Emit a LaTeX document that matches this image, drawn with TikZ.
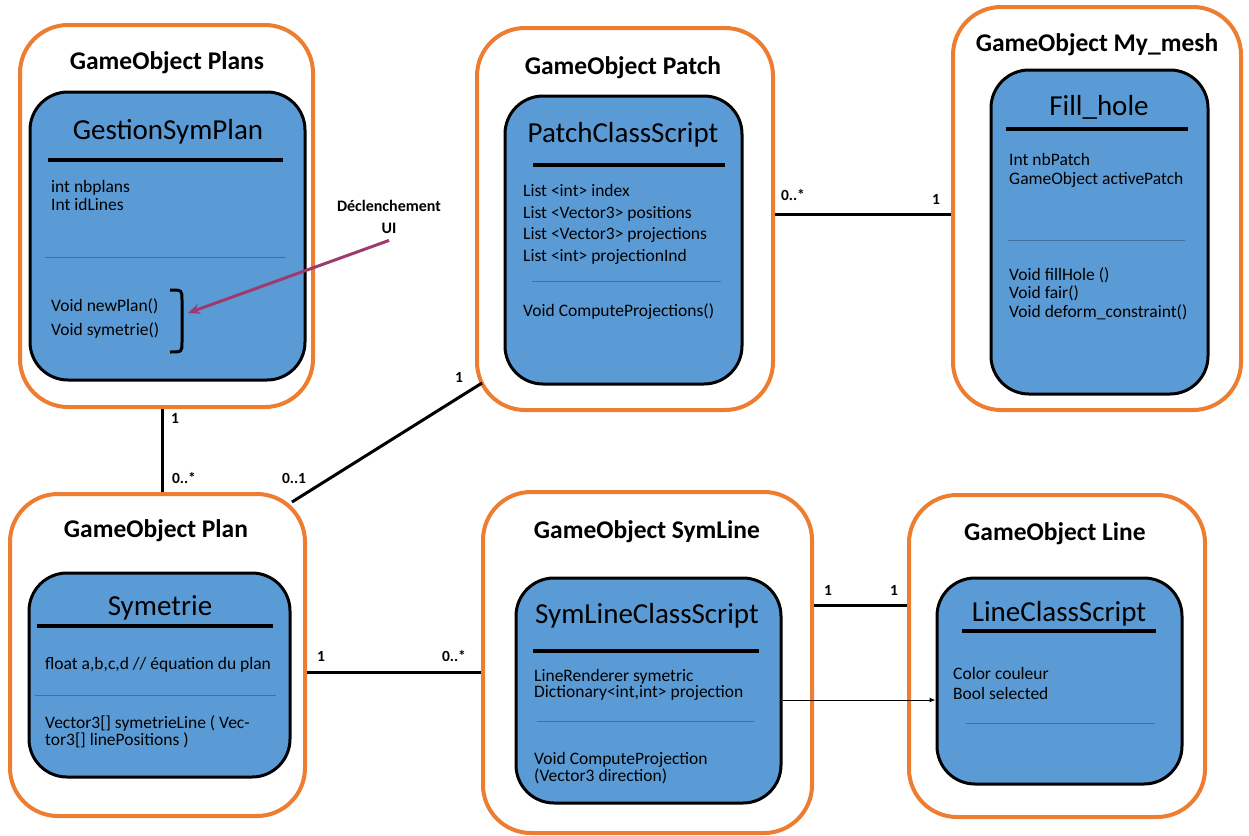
\documentclass[tikz,border=0pt]{standalone}
\usepackage{fontspec}
\setmainfont{Carlito}
\usetikzlibrary{arrows.meta,calc}
\definecolor{frameorange}{HTML}{ED7D31}
\definecolor{classblue}{HTML}{5B9BD5}
\definecolor{sepblue}{HTML}{41719C}
\definecolor{trigger}{HTML}{9E3A6E}
\tikzset{
  gobox/.style={draw=frameorange, line width=4pt, rounded corners=48pt, fill=white, inner sep=0pt},
  clsbox/.style={draw=black, line width=3pt, rounded corners=38pt, fill=classblue, inner sep=0pt},
  gotitle/.style={font=\fontsize{25.5}{28}\selectfont\bfseries, inner sep=0pt},
  clsname/.style={font=\fontsize{29}{32}\selectfont, inner sep=0pt},
  member/.style={font=\fontsize{17.5}{19}\selectfont, anchor=mid west, yshift=-4pt, inner sep=0pt, align=left},
  heavysep/.style={line width=3.5pt},
  lightsep/.style={line width=0.8pt, draw=sepblue},
  assoc/.style={line width=3pt},
  mult/.style={font=\fontsize{15.5}{17}\selectfont\bfseries, inner sep=0pt},
}
\begin{document}
\begin{tikzpicture}[x=1pt,y=-1pt]
\useasboundingbox (0,0) rectangle (1249,835);

% ---- GameObject Plans ----
\node[gobox, minimum width=293pt, minimum height=382pt] (plans) at (166.5,216) {};
\node[gotitle] (plansT) at (167,63) {GameObject Plans};
\node[clsbox, minimum width=275pt, minimum height=288pt] (plansC) at (167.5,236) {};
\node[clsname] (plansN) at (168,132) {GestionSymPlan};
\draw[heavysep] (48,160) -- (283,160);
\node[member] (plansA1) at (51,186) {int nbplans};
\node[member] (plansA2) at (51,204) {Int idLines};
\draw[lightsep] (45,257) -- (286,257);
\node[member] (plansM1) at (51,305) {Void newPlan()};
\node[member] (plansM2) at (51,329) {Void symetrie()};
\draw[line width=3pt] (170,290) .. controls (182,290) .. (182,300) -- (182,342) .. controls (182,352) .. (170,352);
\coordinate (bracketTip) at (188,313);

% ---- GameObject Patch ----
\node[gobox, minimum width=296pt, minimum height=382pt] (patch) at (625,219) {};
\node[gotitle] (patchT) at (623,68) {GameObject Patch};
\node[clsbox, minimum width=237pt, minimum height=288pt] (patchC) at (623.5,240) {};
\node[clsname] (patchN) at (623,135) {PatchClassScript};
\draw[heavysep] (533,165) -- (725,165);
\node[member] (patchA1) at (523,190) {List <int> index};
\node[member] (patchA2) at (523,212) {List <Vector3> positions};
\node[member] (patchA3) at (523,233) {List <Vector3> projections};
\node[member] (patchA4) at (523,255) {List <int> projectionInd};
\draw[lightsep] (532,281) -- (721,281);
\node[member] (patchM1) at (523,310) {Void ComputeProjections()};

% ---- GameObject My_mesh ----
\node[gobox, minimum width=288pt, minimum height=403pt] (mesh) at (1097,208.5) {};
\node[gotitle] (meshT) at (1097,45) {GameObject My\_mesh};
\node[clsbox, minimum width=217pt, minimum height=324pt] (meshC) at (1099.5,232) {};
\node[clsname] (meshN) at (1099,107) {Fill\_hole};
\draw[heavysep] (1006,129) -- (1188,129);
\node[member] (meshA1) at (1009,159) {Int nbPatch};
\node[member] (meshA2) at (1009,178) {GameObject activePatch};
\draw[lightsep] (1008,240) -- (1185,240);
\node[member] (meshM1) at (1009,274) {Void fillHole ()};
\node[member] (meshM2) at (1009,292) {Void fair()};
\node[member] (meshM3) at (1009,311) {Void deform\_constraint()};

% ---- GameObject Plan ----
\node[gobox, minimum width=295pt, minimum height=322pt] (plan) at (157.5,655) {};
\node[gotitle] (planT) at (156,531) {GameObject Plan};
\node[clsbox, minimum width=261pt, minimum height=204pt] (planC) at (159.5,675) {};
\node[clsname] (planN) at (160,608) {Symetrie};
\draw[heavysep] (37,626) -- (273,626);
\node[member] (planA1) at (45,663) {float a,b,c,d // équation du plan};
\draw[lightsep] (35,695) -- (276,695);
% multi-line members: the anchor sits on the last line
\node[member, font=\fontsize{17.5}{15}\selectfont] (planM1) at (45,739) {Vector3[] symetrieLine ( Vec-\\tor3[] linePositions )};

% ---- GameObject SymLine ----
\node[gobox, minimum width=329pt, minimum height=341pt] (symline) at (647.5,662.5) {};
\node[gotitle] (symT) at (647,532) {GameObject SymLine};
\node[clsbox, minimum width=265pt, minimum height=225pt] (symC) at (648.5,690.5) {};
\node[clsname] (symN) at (647,616) {SymLineClassScript};
\draw[heavysep] (533,651) -- (759,651);
\node[member, font=\fontsize{17.5}{16}\selectfont] (symA) at (534,691) {LineRenderer symetric\\Dictionary<int,int> projection};
\draw[lightsep] (537,721) -- (754,721);
\node[member, font=\fontsize{17.5}{15.5}\selectfont] (symM) at (534,775) {Void ComputeProjection\\(Vector3 direction)};

% ---- GameObject Line ----
\node[gobox, minimum width=296pt, minimum height=322pt] (line) at (1057,656) {};
\node[gotitle] (lineT) at (1055,534) {GameObject Line};
\node[clsbox, minimum width=245pt, minimum height=206pt] (lineC) at (1059.5,681) {};
\node[clsname] (lineN) at (1059,614) {LineClassScript};
\draw[heavysep] (962,631) -- (1156,631);
\node[member] (lineA1) at (953,673) {Color couleur};
\node[member] (lineA2) at (953,693) {Bool selected};
\draw[lightsep] (966,723) -- (1155,723);

% ---- UI trigger ----
\node[mult, font=\fontsize{16}{18}\selectfont\bfseries] (declT) at (389,206) {Déclenchement};
\node[mult, font=\fontsize{16}{18}\selectfont\bfseries] (uiT) at (389,228) {UI};
\draw[draw=trigger, line width=3pt, -{Stealth[length=12pt,width=10pt]}] ([yshift=-7pt]uiT.south) -- (bracketTip);

% ---- associations ----
\draw[assoc] ([xshift=-4.5pt]plans.south) -- ([xshift=-4.5pt]plans.south |- plan.north);
\node[mult] (m1) at (175,418) {1};
\node[mult] (m2) at (184,478) {0..*};

\draw[assoc] ([shift={(-15,10)}]plan.north east) -- ([shift={(7,-29)}]patch.south west);
\node[mult] (m3) at (294,478) {0..1};
\node[mult] (m4) at (459,377) {1};

\draw[assoc] ([yshift=5pt]patch.east) -- ([yshift=5pt]patch.east -| mesh.west);
\node[mult] (m5) at (793,195) {0..*};
\node[mult] (m6) at (936,199) {1};

\draw[assoc] ([yshift=-17pt]plan.east) -- ([yshift=-17pt]plan.east -| symline.west);
\node[mult] (m7) at (321,656) {1};
\node[mult] (m8) at (454,656) {0..*};

\draw[assoc] ([yshift=57.5pt]symline.east) -- ([yshift=57.5pt]symline.east -| line.west);
\node[mult] (m9) at (828,590) {1};
\node[mult] (m10) at (894,590) {1};

\draw[line width=1pt, -{Latex[length=6pt,width=5pt]}] ([yshift=-9.5pt]symC.east) -- ([yshift=-9.5pt]symC.east -| lineC.west);
\end{tikzpicture}
\end{document}
